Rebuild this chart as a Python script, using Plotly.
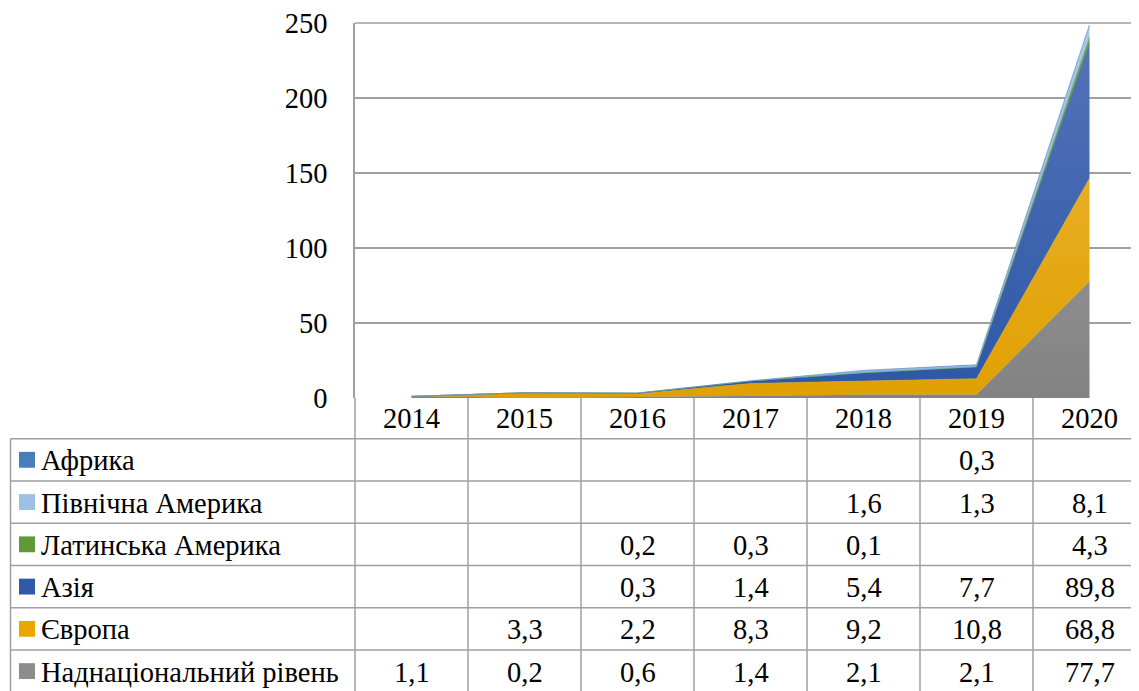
import plotly.graph_objects as go

years = ["2014", "2015", "2016", "2017", "2018", "2019", "2020"]
series_names = ["Африка", "Північна Америка", "Латинська Америка", "Азія", "Європа", "Наднаціональний рівень"]
africa = [None, None, None, None, None, 0.3, None]
north_america = [None, None, None, None, 1.6, 1.3, 8.1]
latin_america = [None, None, 0.2, 0.3, 0.1, None, 4.3]
asia = [None, None, 0.3, 1.4, 5.4, 7.7, 89.8]
europe = [None, 3.3, 2.2, 8.3, 9.2, 10.8, 68.8]
supranational = [1.1, 0.2, 0.6, 1.4, 2.1, 2.1, 77.7]
y_ticks = [0, 50, 100, 150, 200, 250]

series_values = [africa, north_america, latin_america, asia, europe, supranational]
colors = {
    "Африка": ("#4A7EBB", "#3F72B0", "#5A8ACB"),
    "Північна Америка": ("#9DC0E6", "#8DB3E2", "#A9C8EA"),
    "Латинська Америка": ("#5E9A3A", "#4E8A2E", "#6CA845"),
    "Азія": ("#3059A8", "#2C57A6", "#5574BA"),
    "Європа": ("#E8A800", "#E0A000", "#EFB73C"),
    "Наднаціональний рівень": ("#8C8C8C", "#828282", "#A6A6A6"),
}

OFF = 8
W, H = 1139 - OFF, 691 - OFF
ML, MR, MT = 355 - OFF, 0, 20 - OFF
MB = H - (398 - OFF)
plot_w = W - ML - MR
plot_h = H - MT - MB
col_px = 113.0
x0 = -0.5
x1 = x0 + plot_w / col_px
FONT = "Liberation Serif"
FS = 28.5
LINE = "#A0A0A0"

def py(px):
    return (398 - px) / plot_h

def pxx(px):
    return (px - 355) / plot_w

def dx(v):
    return (v - x0) / (x1 - x0)

fig = go.Figure()
idx = list(range(len(years)))
for name, vals in reversed(list(zip(series_names, series_values))):
    leg, c0, c1 = colors[name]
    fig.add_trace(go.Scatter(
        x=idx, y=[v if v is not None else 0 for v in vals],
        name=name, mode="lines", stackgroup="one",
        line=dict(width=0.5, color=leg),
        fillgradient=dict(type="vertical", start=0, stop=250,
                          colorscale=[[0, c0], [1, c1]]),
        hoverinfo="skip", showlegend=False,
    ))

fig.update_layout(
    width=W, height=H,
    margin=dict(l=ML, r=MR, t=MT, b=MB),
    paper_bgcolor="white", plot_bgcolor="white",
    font=dict(family=FONT, size=FS, color="black"),
    showlegend=False,
)
fig.update_xaxes(range=[x0, x1], tickvals=idx, ticktext=years, showgrid=False,
                 zeroline=False, showline=False, ticks="",
                 tickfont=dict(family=FONT, size=FS), ticklabelstandoff=0, fixedrange=True)
fig.update_yaxes(range=[0, 250], tickvals=y_ticks, showgrid=True, gridcolor=LINE,
                 gridwidth=1.5, zeroline=False, showline=True, linecolor=LINE,
                 linewidth=1.5, ticks="", tickfont=dict(family=FONT, size=FS),
                 ticklabelstandoff=20, ticklabeloverflow="allow", fixedrange=True)

shapes = [dict(type="line", xref="paper", yref="paper", x0=0, x1=1, y0=1, y1=1,
               line=dict(color=LINE, width=1.5))]
table_top = 439.0
row_h = 42.6
n_rows = len(series_names)
bottom = table_top + row_h * n_rows
for k in range(len(years) + 1):
    xv = dx(k - 0.5)
    if xv > 1:
        continue
    shapes.append(dict(type="line", xref="paper", yref="paper", x0=xv, x1=xv,
                       y0=0, y1=py(bottom), line=dict(color=LINE, width=1.5)))
shapes.append(dict(type="line", xref="paper", yref="paper", x0=pxx(10.5), x1=pxx(10.5),
                   y0=py(table_top), y1=py(bottom), line=dict(color=LINE, width=1.5)))
for r in range(n_rows + 1):
    yy = py(table_top + r * row_h)
    shapes.append(dict(type="line", xref="paper", yref="paper", x0=pxx(10.5), x1=1,
                       y0=yy, y1=yy, line=dict(color=LINE, width=1.5)))

annotations = []
for r, (name, vals) in enumerate(zip(series_names, series_values)):
    yc = table_top + (r + 0.5) * row_h
    leg = colors[name][0]
    shapes.append(dict(type="rect", xref="paper", yref="paper",
                       x0=pxx(19), x1=pxx(35), y0=py(yc - 8), y1=py(yc + 8),
                       fillcolor=leg, line=dict(width=0)))
    annotations.append(dict(xref="paper", yref="paper", x=pxx(39), y=py(yc + 1),
                            text=name, showarrow=False, xanchor="left", yanchor="middle",
                            font=dict(family=FONT, size=FS)))
    for i, v in enumerate(vals):
        if v is None:
            continue
        annotations.append(dict(xref="x", yref="paper", x=i, y=py(yc + 1),
                                text=f"{v:.1f}".replace(".", ","), showarrow=False,
                                xanchor="center", yanchor="middle",
                                font=dict(family=FONT, size=FS)))

fig.update_layout(shapes=shapes, annotations=annotations)
fig.write_html("out.html")
